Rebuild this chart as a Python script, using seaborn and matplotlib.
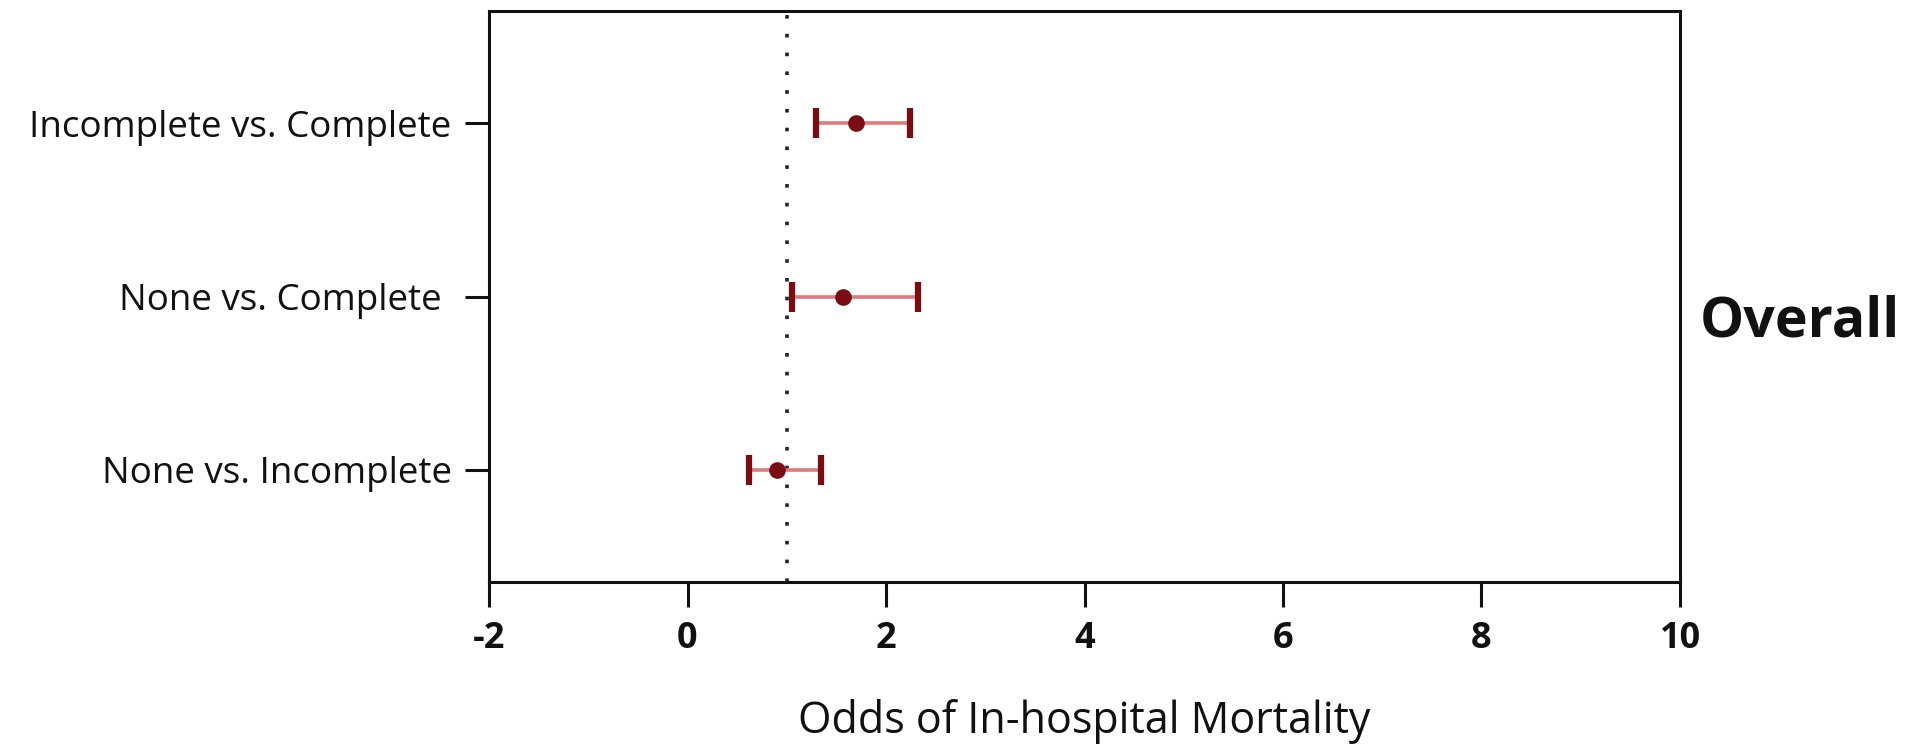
import matplotlib
matplotlib.use("Agg")
import matplotlib.pyplot as plt
import pandas as pd
import seaborn as sns

# odds ratios with 95% CI
comparisons = ["Incomplete vs. Complete", "None vs. Complete ", "None vs. Incomplete"]
odds_ratio = [1.70, 1.57, 0.90]
ci_low = [1.29, 1.05, 0.62]
ci_high = [2.24, 2.32, 1.35]
x_ticks = [-2, 0, 2, 4, 6, 8, 10]

df = pd.DataFrame({"comparison": comparisons, "odds": odds_ratio,
                   "lo": ci_low, "hi": ci_high})

sns.set_style("ticks")
plt.rcParams["font.family"] = ["Open Sans", "DejaVu Sans"]
plt.rcParams["text.color"] = "#111111"
plt.rcParams["xtick.color"] = "#111111"
plt.rcParams["ytick.color"] = "#111111"
plt.rcParams["axes.labelcolor"] = "#111111"

dark_red = "#7a0c14"
light_red = "#e07a7a"

fig = plt.figure(figsize=(19.14, 7.48), dpi=100)
ax = fig.add_axes([489 / 1914, 1 - 582 / 748, (1680 - 489) / 1914, (582 - 11) / 748])

# confidence intervals: pale line with dark caps
ypos = range(len(df))
ax.hlines(ypos, df["lo"], df["hi"], color=light_red, lw=2.6, zorder=2)
ax.errorbar(df["odds"], ypos, xerr=[df["odds"] - df["lo"], df["hi"] - df["odds"]],
            fmt="none", ecolor=dark_red, elinewidth=0, capsize=11, capthick=4.5,
            zorder=3)

sns.stripplot(data=df, x="odds", y="comparison", jitter=False, color=dark_red,
              size=12, ax=ax, zorder=4, order=comparisons)

ax.axvline(1, color="#222222", lw=2.6, linestyle=(0, (1, 4.2)), zorder=1)

ax.set_xlim(-2, 10)
ax.set_ylim(2.65, -0.65)
ax.set_xticks(x_ticks)
ax.set_xticklabels([str(t) for t in x_ticks], fontsize=26, fontweight="bold")
ax.tick_params(axis="y", labelsize=26.5, length=17, width=2.2, pad=10)
ax.tick_params(axis="x", length=18, width=2.2, pad=10)
for s in ax.spines.values():
    s.set_linewidth(2.2)
    s.set_color("#111111")
ax.set_ylabel("")
ax.set_xlabel("Odds of In-hospital Mortality", fontsize=31, labelpad=30)

fig.text(1700 / 1914, 1 - 322 / 748, "Overall", fontsize=40, fontweight="bold",
         va="center", ha="left")

fig.savefig("out.png", dpi=100)
